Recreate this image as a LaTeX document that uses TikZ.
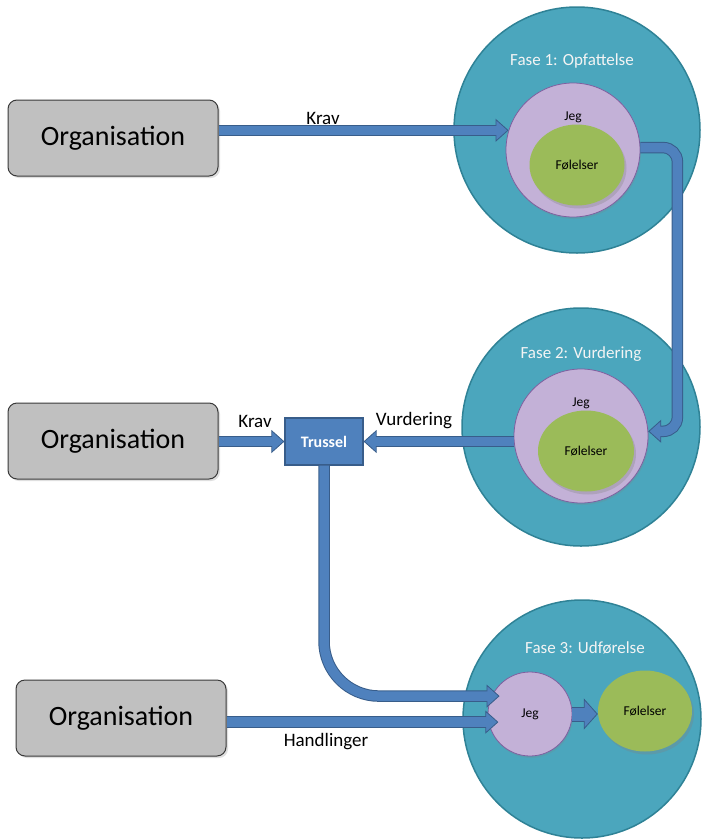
\documentclass[tikz,border=0pt]{standalone}
\usepackage{fontspec}
\setmainfont{Carlito}
\usetikzlibrary{arrows.meta,shadows,calc,shapes.geometric}
\definecolor{arrblue}{HTML}{4F81BD}
\definecolor{arrdark}{HTML}{385D8A}
\definecolor{bigfill}{HTML}{4BA6BD}
\definecolor{bigline}{HTML}{2F8296}
\definecolor{jegfill}{HTML}{C3B1D7}
\definecolor{jegline}{HTML}{7F5F9F}
\definecolor{folfill}{HTML}{9BBB59}
\definecolor{orgfill}{HTML}{C0C0C0}
\definecolor{orgline}{HTML}{3A3A3A}
\definecolor{fasetext}{HTML}{F4F4F4}
\newcommand\fsz[1]{\fontsize{#1}{#1}\selectfont}
\newcommand\barrow[1]{\draw[barouter] #1; \draw[barinner] #1;}
\begin{document}
\begin{tikzpicture}[x=1pt,y=-1pt,
  org/.style={draw=orgline, line width=1pt, fill=orgfill, rounded corners=9pt,
    minimum width=210pt, minimum height=76pt, font=\fsz{28},
    drop shadow={opacity=0.25, shadow xshift=2pt, shadow yshift=-2pt}},
  fase/.style={circle, draw=bigline, line width=1.5pt, fill=bigfill, inner sep=0pt},
  fasetxt/.style={font=\fsz{17}, text=fasetext},
  jeg/.style={circle, draw=jegline, line width=0.8pt, fill=jegfill, inner sep=0pt,
    minimum size=134pt, drop shadow={opacity=0.2, shadow xshift=1pt, shadow yshift=-2pt}},
  small/.style={font=\fsz{13.5}},
  fol/.style={ellipse, fill=folfill, inner sep=0pt, minimum width=95pt,
    minimum height=81pt, font=\fsz{13.5},
    drop shadow={opacity=0.3, shadow xshift=2pt, shadow yshift=-3pt}},
  lbl/.style={font=\fsz{19}},
  barouter/.style={draw=arrdark, line width=11.5pt,
    -{Triangle[length=13pt,width=23pt,fill=arrblue,line width=0.8pt]}},
  barinner/.style={draw=arrblue, line width=9.5pt, shorten >=10.5pt},
  fatouter/.style={draw=arrdark, line width=15pt,
    -{Triangle[length=14pt,width=31pt,fill=arrblue,line width=0.8pt]}},
  fatinner/.style={draw=arrblue, line width=13pt, shorten >=11.5pt},
]
\useasboundingbox (0,0) rectangle (703,839);

% Phase circles
\node[fase, minimum size=246pt] (f1) at (577,130) {};
\node[fase, minimum size=238pt] (f2) at (581,427) {};
\node[fase, minimum size=238pt] (f3) at (582,719) {};
\node[fasetxt] (f1t) at (572,61) {Fase 1: Opfattelse};
\node[fasetxt] (f2t) at (581,354) {Fase 2: Vurdering};
\node[fasetxt] (f3t) at (585,648) {Fase 3: Udførelse};

% Jeg / Følelser
\node[jeg] (jeg1) at (573,150) {};
\node[small] (jeg1t) at (573,117) {Jeg};
\node[fol] (fol1) at (577,165) {Følelser};

\node[jeg] (jeg2) at (581,436) {};
\node[small] (jeg2t) at (581,403) {Jeg};
\node[fol, minimum width=96pt] (fol2) at (586,451) {Følelser};

\node[jeg, minimum size=84pt, font=\fsz{13.5}] (jeg3) at (530,714) {Jeg};
\node[fol, minimum width=94pt] (fol3) at (645,711) {Følelser};

% Organisation boxes
\node[org] (org1) at (113,138) {Organisation};
\node[org] (org2) at (113,441) {Organisation};
\node[org] (org3) at (121,718) {Organisation};

% Trussel
\node[draw=arrdark, line width=1.2pt, fill=arrblue, minimum width=78pt,
  minimum height=47pt, text=white, font=\bfseries\fsz{16}] (tr) at (324,441.5) {Trussel};

% Arrows
\coordinate (t5) at ([xshift=8pt]jeg3.155);
\coordinate (t6) at ([xshift=10pt]jeg3.191);
\barrow{(org1.east |- jeg1.163) -- (jeg1.163)}
\barrow{[rounded corners=14pt] (jeg1.2) -- ++(37,0) |- (jeg2.4)}
\barrow{(jeg2.west |- tr.east) -- (tr.east)}
\barrow{(org2.east |- tr.west) -- (tr.west)}
\barrow{[rounded corners=55pt] (tr.south) |- (t5)}
\barrow{(org3.east |- t6) -- (t6)}
\draw[fatouter] (jeg3.east) -- (jeg3.east -| fol3.west);
\draw[fatinner] (jeg3.east) -- (jeg3.east -| fol3.west);

% Labels
\node[lbl] (l1) at (323,118) {Krav};
\node[lbl] (l2) at (255,421) {Krav};
\node[lbl] (l3) at (414,421) {Vurdering};
\node[lbl] (l4) at (326,742) {Handlinger};
\end{tikzpicture}
\end{document}
